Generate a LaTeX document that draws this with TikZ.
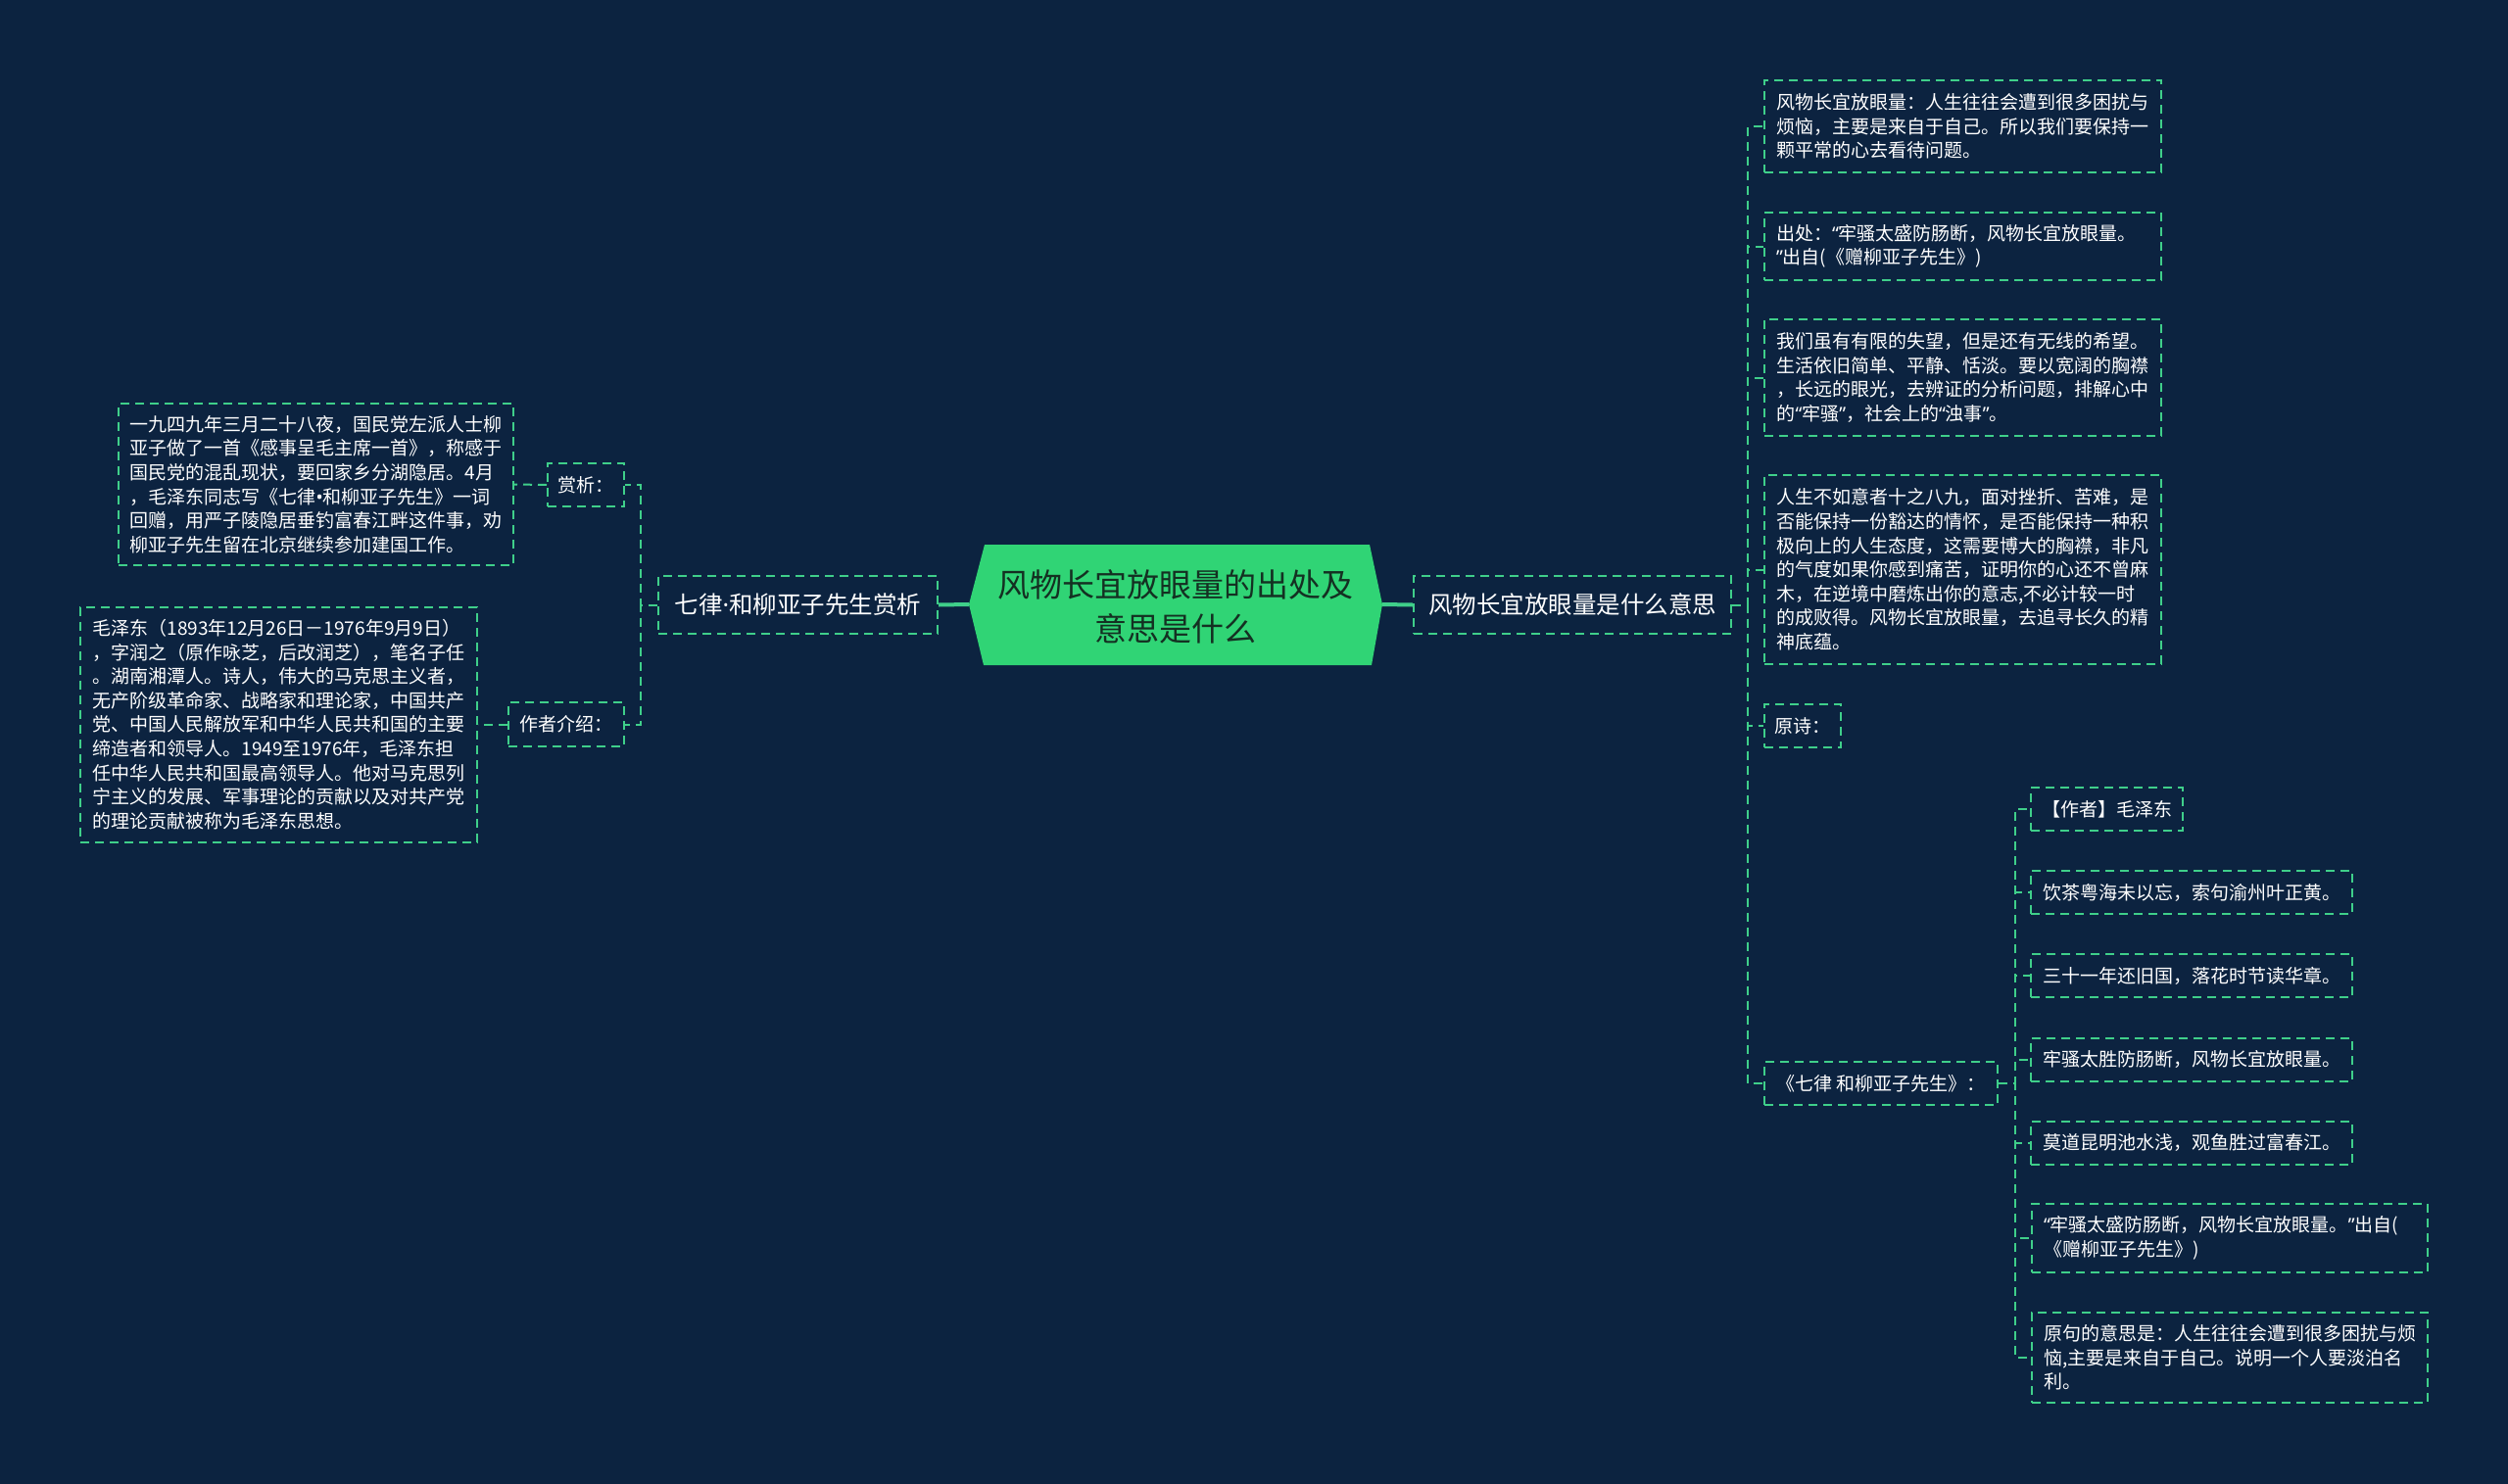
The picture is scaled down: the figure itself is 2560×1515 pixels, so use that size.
\documentclass[tikz,border=0pt]{standalone}
\usepackage{fontspec}
\newfontfamily\cjk{Noto Sans CJK SC}
\newfontfamily\lat{Noto Sans}
\usetikzlibrary{calc}
\definecolor{bg}{HTML}{0C2340}
\definecolor{lc}{HTML}{3FCF8A}
\definecolor{cf}{HTML}{30D475}
\definecolor{ct}{HTML}{143022}
\newcommand{\myLq}{{\lat “}}
\newcommand{\myRq}{{\lat ”}}
\tikzset{
 dl/.style={draw=lc, line width=2pt, dash pattern=on 9pt off 6pt},
 box/.style={dl, text=white, font=\cjk\fontsize{19}{24.6}\selectfont, align=left, inner sep=0pt},
 topic/.style={box, font=\cjk\fontsize{24.5}{30}\selectfont},
 conn/.style={dl},
 mainline/.style={draw=lc, line width=4pt},
}
\begin{document}
\begin{tikzpicture}[x=1pt,y=-1pt]
\fill[bg] (0,0) rectangle (2560,1515);
\useasboundingbox (0,0) rectangle (2560,1515);
% central topic
\fill[cf] (989,617) -- (1005,556) -- (1398,556) -- (1411,617) -- (1400,679) -- (1004,679) -- cycle;
\node[font=\cjk\fontsize{33}{45}\selectfont, text=ct, align=center] (C) at (1200,619) {风物长宜放眼量的出处及\\意思是什么};
\coordinate (cL) at (989,617);
\coordinate (cR) at (1411,617);
% main branches
\node[topic, minimum width=324, minimum height=59] (R) at (1605,617.5) {风物长宜放眼量是什么意思};
\node[topic, minimum width=285, minimum height=59] (L) at (814.5,617.5) {七律{\lat ·}和柳亚子先生赏析};
\draw[mainline] (cR) -- (R.west);
\draw[mainline] (cL) -- (L.east);
% left side
\node[box, minimum width=78, minimum height=44] (SX) at (598,495) {赏析：};
\node[box, minimum width=118, minimum height=45] (ZZ) at (578,739.5) {作者介绍：};
\node[box, minimum width=403, minimum height=165] (T1) at (322.5,494.5) {一九四九年三月二十八夜，国民党左派人士柳\\亚子做了一首《感事呈毛主席一首》，称感于\\国民党的混乱现状，要回家乡分湖隐居。4月\\，毛泽东同志写《七律{\lat •}和柳亚子先生》一词\\回赠，用严子陵隐居垂钓富春江畔这件事，劝\\柳亚子先生留在北京继续参加建国工作。};
\node[box, minimum width=405, minimum height=240] (T2) at (284.5,739.5) {毛泽东（1893年12月26日－1976年9月9日）\\，字润之（原作咏芝，后改润芝），笔名子任\\。湖南湘潭人。诗人，伟大的马克思主义者，\\无产阶级革命家、战略家和理论家，中国共产\\党、中国人民解放军和中华人民共和国的主要\\缔造者和领导人。1949至1976年，毛泽东担\\任中华人民共和国最高领导人。他对马克思列\\宁主义的发展、军事理论的贡献以及对共产党\\的理论贡献被称为毛泽东思想。};
\draw[conn] (L.west) -- ++(-17,0) |- (SX.east);
\draw[conn] (L.west) -- ++(-17,0) |- (ZZ.east);
\draw[conn] (SX.west) -- (T1.east);
\draw[conn] (ZZ.west) -- (T2.east);
% right side
\node[box, minimum width=405, minimum height=94] (A) at (2003.5,129) {风物长宜放眼量：人生往往会遭到很多困扰与\\烦恼，主要是来自于自己。所以我们要保持一\\颗平常的心去看待问题。};
\node[box, minimum width=405, minimum height=69, text width=381] (B) at (2003.5,251.5) {出处：\myLq 牢骚太盛防肠断，风物长宜放眼量。\\\myRq 出自(《赠柳亚子先生》)};
\node[box, minimum width=405, minimum height=119] (Cc) at (2003.5,385.5) {我们虽有有限的失望，但是还有无线的希望。\\生活依旧简单、平静、恬淡。要以宽阔的胸襟\\，长远的眼光，去辨证的分析问题，排解心中\\的\myLq 牢骚\myRq ，社会上的\myLq 浊事\myRq 。};
\node[box, minimum width=405, minimum height=193] (D) at (2003.5,581.5) {人生不如意者十之八九，面对挫折、苦难，是\\否能保持一份豁达的情怀，是否能保持一种积\\极向上的人生态度，这需要博大的胸襟，非凡\\的气度如果你感到痛苦，证明你的心还不曾麻\\木，在逆境中磨炼出你的意志,不必计较一时\\的成败得。风物长宜放眼量，去追寻长久的精\\神底蕴。};
\node[box, minimum width=78, minimum height=44] (YS) at (1840,741) {原诗：};
\node[box, minimum width=238, minimum height=44] (Q) at (1920,1106) {《七律 和柳亚子先生》：};
\draw[conn] (R.east) -- ++(16,0) |- (A.west);
\draw[conn] (R.east) -- ++(16,0) |- (B.west);
\draw[conn] (R.east) -- ++(16,0) |- (Cc.west);
\draw[conn] (R.east) -- ++(16,0) |- (D.west);
\draw[conn] (R.east) -- ++(16,0) |- (YS.west);
\draw[conn] (R.east) -- ++(16,0) |- (Q.west);
% poem sub-branch
\node[box, minimum width=155, minimum height=44] (Pa) at (2150.5,826) {【作者】毛泽东};
\node[box, minimum width=328, minimum height=44] (Pb) at (2237,911) {饮茶粤海未以忘，索句渝州叶正黄。};
\node[box, minimum width=328, minimum height=44] (Pc) at (2237,996) {三十一年还旧国，落花时节读华章。};
\node[box, minimum width=328, minimum height=44] (Pd) at (2237,1081.5) {牢骚太胜防肠断，风物长宜放眼量。};
\node[box, minimum width=328, minimum height=44] (Pe) at (2237,1166.5) {莫道昆明池水浅，观鱼胜过富春江。};
\node[box, minimum width=404, minimum height=70, text width=380] (Pf) at (2276,1264) {\myLq 牢骚太盛防肠断，风物长宜放眼量。\myRq 出自(\\《赠柳亚子先生》)};
\node[box, minimum width=404, minimum height=92] (Pg) at (2276,1386) {原句的意思是：人生往往会遭到很多困扰与烦\\恼,主要是来自于自己。说明一个人要淡泊名\\利。};
\foreach \n in {Pa,Pb,Pc,Pd,Pe,Pf,Pg}
  \draw[conn] (Q.east) -- ++(17,0) |- (\n.west);
\end{tikzpicture}
\end{document}
